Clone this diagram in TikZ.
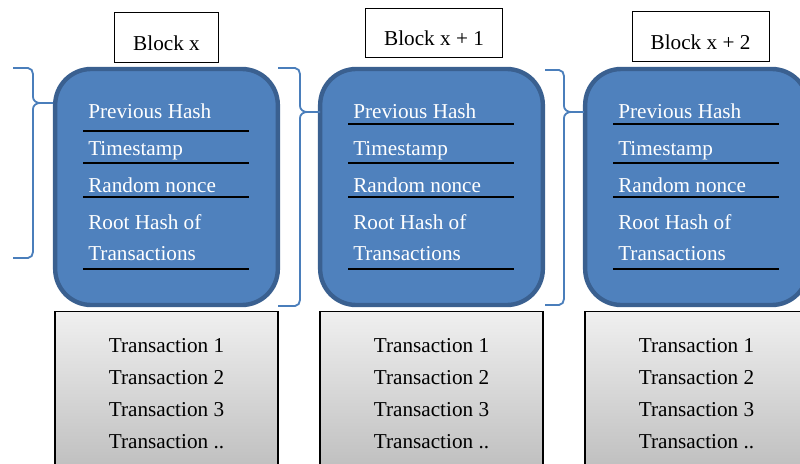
\documentclass[tikz,border=0pt]{standalone}
\usepackage{fontspec}
\setmainfont{Liberation Serif}

\definecolor{blockblue}{HTML}{4F81BD}
\definecolor{blockedge}{HTML}{3A6090}
\definecolor{bracecol}{HTML}{4A7EBB}

\tikzset{
  blockbox/.style={draw=blockedge, line width=3.3pt, fill=blockblue, rounded corners=27pt,
    minimum width=167pt, minimum height=177pt},
  labelbox/.style={draw, line width=0.7pt, fill=white, inner xsep=14pt,
    minimum height=37pt, text height=19pt, text depth=0pt},
  txbox/.style={draw, line width=1.1pt, top color=gray!12, bottom color=gray!52,
    minimum width=167pt, minimum height=124pt, align=center},
  field/.style={white, anchor=base west, inner sep=0pt},
  fieldline/.style={line width=1.4pt},
  bracestyle/.style={bracecol, line width=1.35pt},
}

\begin{document}
\begin{tikzpicture}[x=0.75pt, y=-0.75pt, font=\fontsize{15.9}{24}\selectfont]
\clip (0,0) rectangle (800,464);

\foreach \i/\lx/\ly/\lname/\fy in {0/166.5/37.5/{Block x}/131, 1/434/33/{Block x + 1}/124, 2/700.5/36.5/{Block x + 2}/124}{
  \pgfmathsetmacro\bx{166.5+265*\i}
  \pgfmathsetmacro\fx{88+265*\i}
  \pgfmathsetmacro\ax{83+265*\i}
  \pgfmathsetmacro\ex{249+265*\i}
  % block header and body
  \node[labelbox] (lbl\i) at (\lx,\ly) {\lname};
  \node[blockbox] (blk\i) at (\bx,187) {};
  \node[txbox] (tx\i) at (\bx,394) {Transaction 1\\Transaction 2\\Transaction 3\\Transaction ..};
  % fields
  \node[field] (prev\i) at (\fx,118) {Previous Hash};
  \node[field] (time\i) at (\fx,155) {Timestamp};
  \node[field] (nonce\i) at (\fx,192) {Random nonce};
  \node[field] (roota\i) at (\fx,229) {Root Hash of};
  \node[field] (rootb\i) at (\fx,260) {Transactions};
  \draw[fieldline] (\ax,\fy) -- (\ex,\fy);
  \draw[fieldline] (\ax,163) -- (\ex,163);
  \draw[fieldline] (\ax,197) -- (\ex,197);
  \draw[fieldline] (\ax,269) -- (\ex,269);
}

% braces between the blocks
\foreach \j/\ex/\sx/\tyy/\ty/\by in {0/13/33/68/103/258, 1/278/300/68/112/306, 2/545/564/70/112/305}{
  \coordinate (bt\j) at (\ex,\tyy);
  \coordinate (tip\j) at (\sx+20,\ty);
  \coordinate (bb\j) at (\ex,\by);
  \draw[bracestyle] (bt\j) -- (\sx-5,\tyy) to[out=0,in=90] (\sx,\tyy+6) -- (\sx,\ty-6)
    to[out=-90,in=180] (\sx+7,\ty) -- (tip\j) -- (\sx+7,\ty) to[out=180,in=90] (\sx,\ty+6)
    -- (\sx,\by-6) to[out=-90,in=0] (\sx-5,\by) -- (bb\j);
}

\end{tikzpicture}
\end{document}
